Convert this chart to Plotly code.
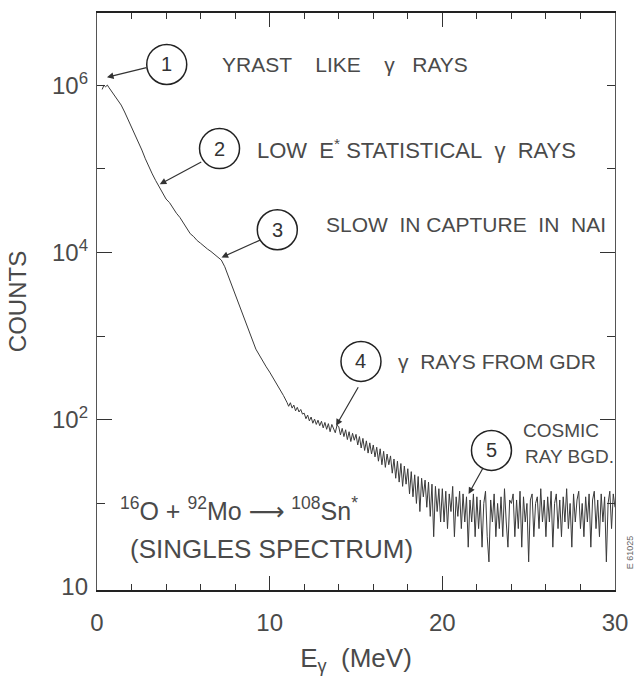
import numpy as np
import plotly.graph_objects as go

# ---------------- data ----------------
# low-energy part of the singles spectrum (MeV, counts)
E_low = [0.3, 0.4, 0.5, 0.6, 0.7, 0.8,
         1.0, 1.2, 1.4, 1.6, 1.8, 2.0, 2.2, 2.4, 2.6, 2.8,
         3.0, 3.2, 3.4, 3.6, 3.8, 4.0, 4.2, 4.4, 4.6, 4.8,
         5.0, 5.2, 5.4, 5.6, 5.8, 6.0, 6.2, 6.4, 6.6, 6.8,
         7.0, 7.2, 7.4, 7.6, 7.8, 8.0, 8.2, 8.4, 8.6, 8.8,
         9.0, 9.2, 9.4, 9.6, 9.8, 10.0, 10.2, 10.4, 10.6, 10.8]
C_low = [891000, 1000000, 960000, 1005000, 933000, 871000,
         776000, 676000, 580000, 479000, 392000, 316000, 263000, 212000, 168000, 132000,
         106000, 87100, 72400, 61700, 52000, 43600, 39500, 33600, 29500, 26300,
         22900, 19300, 16800, 15500, 13900, 12900, 11800, 11000, 10300, 9550,
         9000, 8130, 6760, 5250, 3980, 3050, 2400, 1900, 1460, 1120,
         880, 700, 595, 500, 430, 372, 318, 268, 231, 195]

# high-energy part, 0.1 MeV channels from 11.0 to 30.0 MeV (counts)
C_high = [162, 145, 160, 138, 150, 128, 141, 124, 133, 117,
          120, 103, 114, 97, 108, 91, 102, 88, 99, 85,
          96, 80, 93, 77, 90, 72, 88, 76, 70, 86,
          83, 66, 79, 63, 76, 58, 72, 55, 69, 57,
          67, 50, 63, 46, 60, 43, 56, 40, 53, 39,
          50, 36, 47, 32, 45, 29, 42, 27, 39, 29,
          37, 23, 34, 20, 32, 18, 30, 16, 28, 17,
          26, 13, 24, 12, 22, 10, 21, 8, 20, 12,
          19, 9, 18, 7, 17, 4, 16, 8, 15, 6,
          15, 6, 14, 5, 13, 8, 16, 4, 12, 7,
          14, 5, 13, 6, 12, 3, 11, 6, 13, 4,
          12, 5, 11, 3, 10, 14, 4, 2, 11, 6,
          13, 4, 10, 5, 12, 4, 15, 6, 3, 11,
          10, 13, 4, 11, 5, 14, 3, 12, 6, 10,
          2, 11, 13, 4, 10, 12, 5, 15, 6, 11,
          4, 12, 6, 14, 3, 10, 13, 5, 11, 4,
          12, 6, 15, 5, 10, 3, 13, 6, 11, 14,
          5, 10, 4, 12, 6, 13, 3, 11, 14, 5,
          11, 4, 13, 6, 12, 2, 10, 14, 5, 13,
          9]
E_high = list(np.round(np.arange(110, 301) / 10.0, 1))

energy = E_low + E_high
counts = C_low + C_high

y_tick_vals = [1, 100, 10000, 1000000]
y_tick_text = ["10", "10<sup>2</sup>", "10<sup>4</sup>", "10<sup>6</sup>"]
x_tick_vals = [0, 10, 20, 30]

# ---------------- layout helpers ----------------
W, H = 639, 679
L, R, T, B = 97, 22, 11, 85
PW, PH = W - L - R, H - T - B


def px(x):
    return (x - L) / PW


def py(y):
    return (H - B - y) / PH


TXT = "#4a4a4a"
FONT = "Liberation Sans, Arial, DejaVu Sans, sans-serif"

fig = go.Figure()
fig.add_trace(go.Scatter(x=energy, y=counts, mode="lines",
                         line=dict(color="#3a3a3a", width=1),
                         showlegend=False, hoverinfo="skip"))

fig.update_layout(
    width=W, height=H,
    margin=dict(l=L, r=R, t=T, b=B, pad=0),
    paper_bgcolor="white", plot_bgcolor="white",
    showlegend=False,
    font=dict(family=FONT, color=TXT),
    xaxis=dict(range=[0, 30], tickvals=x_tick_vals, ticks="inside", ticklen=14,
               tickwidth=1, tickcolor="#333", showline=True, linecolor="#222",
               linewidth=1.6, mirror="ticks", showgrid=False, zeroline=False,
               tickfont=dict(size=24, color=TXT), ticklabelstandoff=10,
               minor=dict(dtick=2, ticks="inside", ticklen=6, tickcolor="#333",
                          tickwidth=1, showgrid=False),
               title=dict(text="E<sub>γ</sub>\u00a0\u00a0(MeV)", font=dict(size=26, color=TXT),
                          standoff=14)),
    yaxis=dict(type="log", range=[-0.035, 6.864], tickvals=[100, 10000],
               ticks="inside", ticklen=15, tickwidth=1, tickcolor="#333",
               showticklabels=False, showline=True, linecolor="#555",
               linewidth=1.2, mirror="ticks", showgrid=False, zeroline=False,
               minor=dict(tickvals=[10, 1000, 100000, 1000000], ticks="inside",
                          ticklen=8, tickcolor="#333", tickwidth=1, showgrid=False)),
    yaxis2=dict(type="log", range=[-0.035, 6.864], overlaying="y", side="left",
                anchor="x", tickvals=y_tick_vals, ticktext=y_tick_text, ticks="",
                showline=False, showgrid=False, zeroline=False,
                tickfont=dict(size=24, color=TXT), ticklabelstandoff=8,
                title=dict(text="COUNTS", font=dict(size=24, color=TXT), standoff=18)),
)

# make yaxis2 exist: invisible helper trace
fig.add_trace(go.Scatter(x=[None], y=[None], yaxis="y2", showlegend=False,
                         hoverinfo="skip"))

# circled numbers
circles = [("1", 167, 63), ("2", 220, 148), ("3", 278, 230), ("4", 362, 363), ("5", 493, 453)]
for lab, cx, cy in circles:
    fig.add_shape(type="circle", xref="paper", yref="paper",
                  xsizemode="pixel", ysizemode="pixel",
                  xanchor=px(cx), yanchor=py(cy), x0=-20, x1=20, y0=-20, y1=20,
                  line=dict(color="#222", width=1.5))
    fig.add_annotation(x=px(cx), y=py(cy), xref="paper", yref="paper", text=lab,
                       showarrow=False, font=dict(size=20, color="#333"),
                       xanchor="center", yanchor="middle")

# arrows (tip, tail offset in px)
arrows = [(107, 76, 41, -10), (160, 184, 43, -23), (222, 258, 40, -18),
          (337, 428, 23, -40), (470, 497, 15, -27)]
for tx, ty, ax, ay in arrows:
    fig.add_annotation(x=px(tx), y=py(ty), xref="paper", yref="paper", text="",
                       showarrow=True, ax=ax, ay=ay, arrowhead=2, arrowsize=1.1,
                       arrowwidth=1.2, arrowcolor="#333")

nb = "\u00a0"
texts = [
    (f"YRAST{nb*3} LIKE{nb*3} γ{nb*2} RAYS", 220, 63, 21),
    (f"LOW{nb} E<sup>*</sup> STATISTICAL{nb} γ{nb} RAYS", 256, 148, 22),
    (f"SLOW{nb} IN CAPTURE{nb} IN{nb} NAI", 325, 225, 21),
    (f"γ{nb} RAYS FROM GDR", 397, 363, 21),
    ("COSMIC", 523, 433, 19),
    ("RAY BGD.", 525, 459, 19),
    ("<sup>16</sup>O + <sup>92</sup>Mo ⟶ <sup>108</sup>Sn<sup>*</sup>", 118, 512, 25),
    ("(SINGLES SPECTRUM)", 128, 553, 26),
]
for t, x, y, s in texts:
    fig.add_annotation(x=px(x), y=py(y), xref="paper", yref="paper", text=t,
                       showarrow=False, xanchor="left", yanchor="middle",
                       font=dict(size=s, color=TXT))

fig.add_annotation(x=px(632), y=py(556), xref="paper", yref="paper", text="E 61025",
                   showarrow=False, textangle=-90, font=dict(size=9, color="#666"),
                   xanchor="center", yanchor="middle")

fig.write_html("out.html")
